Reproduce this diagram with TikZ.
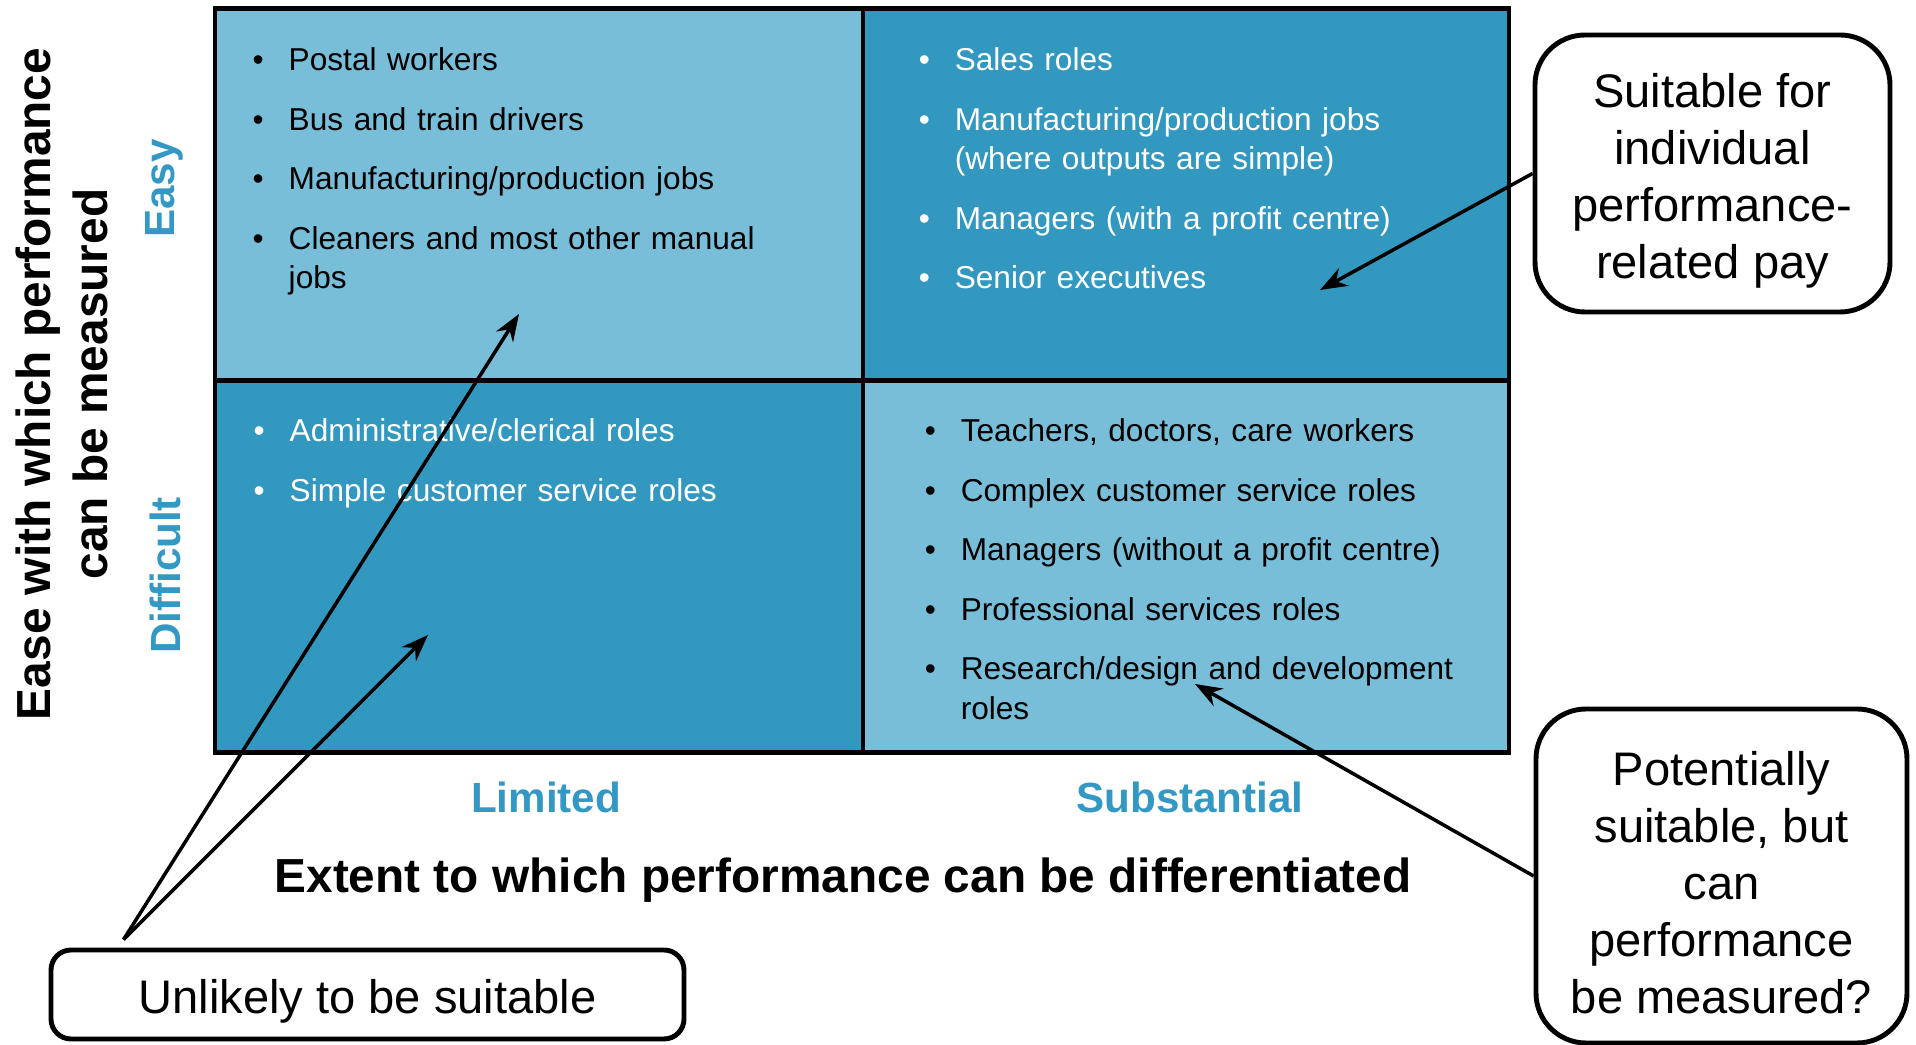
\documentclass[tikz,border=0pt]{standalone}
\usepackage{fontspec}
\setmainfont{Liberation Sans}
\usepackage{enumitem}
\usetikzlibrary{arrows.meta, positioning}

\definecolor{paleblue}{RGB}{121,190,217}
\definecolor{deepblue}{RGB}{50,152,192}
\definecolor{labelblue}{RGB}{51,153,196}

\newlist{rolelist}{itemize}{1}
\setlist[rolelist]{label=\textbullet, leftmargin=0.36cm, labelwidth=0.36cm, labelsep=0pt,
  align=left, itemsep=0.2cm, parsep=0pt, topsep=0pt, partopsep=0pt}

\begin{document}
\begin{tikzpicture}[
  cell/.style={draw, line width=1.4pt, minimum height=3.72cm, inner sep=0pt},
  roles/.style={anchor=north west, inner sep=0pt, align=left, font=\fontsize{9}{11.24}\selectfont},
  callout/.style={draw, line width=1.4pt, fill=white, rounded corners=0.5cm, inner sep=0pt},
  note/.style={align=center, inner sep=0pt, font=\fontsize{13.4}{16.2}\selectfont},
  axis/.style={font=\fontsize{13.6}{16.2}\selectfont\bfseries, align=center},
  level/.style={font=\fontsize{12}{14}\selectfont\bfseries, text=labelblue},
  pointer/.style={-{Stealth[length=0.27cm, width=0.2cm]}, line width=1pt}]
  \useasboundingbox (0,0) rectangle (19.16,10.45);

  % Quadrants
  \node[cell, fill=paleblue, minimum width=6.48cm] (EL) at (5.39,8.505) {};
  \node[cell, fill=deepblue, minimum width=6.46cm] (ES) at (11.86,8.505) {};
  \node[cell, fill=deepblue, minimum width=6.48cm] (DL) at (5.39,4.785) {};
  \node[cell, fill=paleblue, minimum width=6.46cm] (DS) at (11.86,4.785) {};

  % Roles in each quadrant
  \node[roles, text width=5.8cm, below right=0.245cm and 0.395cm of EL.north west] (ELroles) {%
    \begin{rolelist}
      \item Postal workers
      \item Bus and train drivers
      \item Manufacturing/production jobs
      \item Cleaners and most other manual\\jobs
    \end{rolelist}};
  \node[roles, text width=5.6cm, text=white, below right=0.245cm and 0.575cm of ES.north west] (ESroles) {%
    \begin{rolelist}
      \item Sales roles
      \item Manufacturing/production jobs\\(where outputs are simple)
      \item Managers (with a profit centre)
      \item Senior executives
    \end{rolelist}};
  \node[roles, text width=5.8cm, text=white, below right=0.235cm and 0.405cm of DL.north west] (DLroles) {%
    \begin{rolelist}
      \item Administrative/clerical roles
      \item Simple customer service roles
    \end{rolelist}};
  \node[roles, text width=5.6cm, below right=0.235cm and 0.635cm of DS.north west] (DSroles) {%
    \begin{rolelist}
      \item Teachers, doctors, care workers
      \item Complex customer service roles
      \item Managers (without a profit centre)
      \item Professional services roles
      \item Research/design and development\\roles
    \end{rolelist}};

  % Axes
  \node[axis, rotate=90] (ease) at (0.62,6.61) {Ease with which performance\\can be measured};
  \node[level, rotate=90, anchor=base] (easy) at (1.745,8.565) {Easy};
  \node[level, rotate=90, anchor=base] (hard) at (1.81,4.695) {Difficult};
  \node[level, anchor=base] (lim) at (5.46,2.32) {Limited};
  \node[level, anchor=base] (subst) at (11.90,2.32) {Substantial};
  \node[axis, anchor=base] (extent) at (8.43,1.52) {Extent to which performance can be differentiated};

  % Callouts
  \node[callout, minimum width=3.55cm, minimum height=2.77cm] (suit) at (17.125,8.715) {};
  \node[note] (suitText) at ([yshift=-0.07cm]suit.center)
    {Suitable for\\individual\\performance-\\related pay};
  \node[callout, minimum width=3.71cm, minimum height=3.34cm] (maybe) at (17.215,1.69) {};
  \node[note] (maybeText) at ([yshift=-0.07cm]maybe.center)
    {Potentially\\suitable, but\\can\\performance\\be measured?};
  \node[callout, rounded corners=0.2cm, minimum width=6.33cm, minimum height=0.89cm] (unlikely)
    at (3.675,0.505) {};
  \node[note] (unlikelyText) at ([yshift=-0.07cm]unlikely.center) {Unlikely to be suitable};

  % Arrows
  \coordinate (suitTip) at (13.20,7.55);
  \coordinate (maybeTip) at (11.95,3.61);
  \coordinate (easyTip) at (5.19,7.31);
  \coordinate (hardTip) at (4.28,4.10);
  \coordinate[above right=0.08cm and 0.75cm of unlikely.north west] (fork);
  \draw[pointer] (suit.west) -- (suitTip);
  \draw[pointer] (maybe.west) -- (maybeTip);
  \draw[pointer] (fork) -- (easyTip);
  \draw[pointer] (fork) -- (hardTip);
\end{tikzpicture}
\end{document}
